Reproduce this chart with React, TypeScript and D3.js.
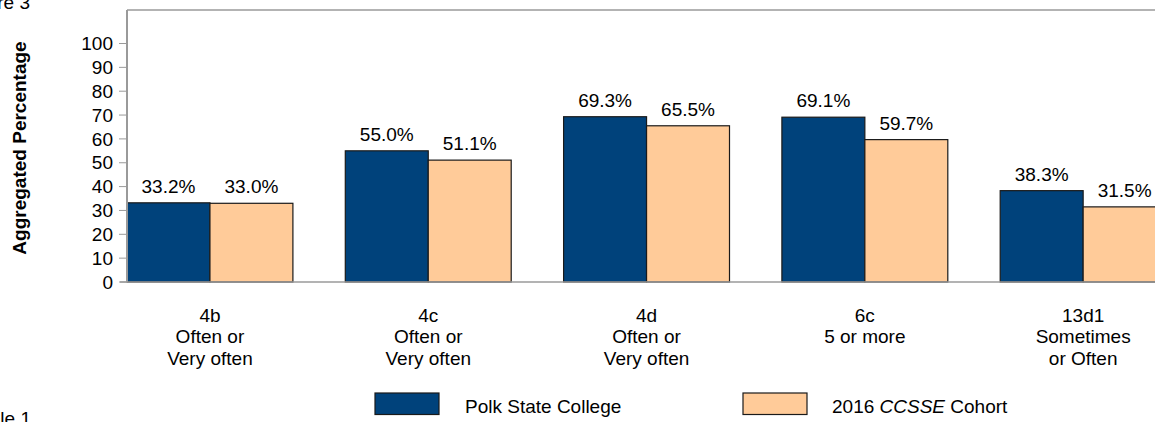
import React from 'react';
import * as d3 from 'd3';

// Item codes and their response-category captions (one entry per line)
const categories = ['4b', '4c', '4d', '6c', '13d1'];
const categoryCaptions = [
  ['4b', 'Often or', 'Very often'],
  ['4c', 'Often or', 'Very often'],
  ['4d', 'Often or', 'Very often'],
  ['6c', '5 or more'],
  ['13d1', 'Sometimes', 'or Often'],
];

const seriesKeys = ['college', 'cohort'];
const collegeValues = [33.2, 55.0, 69.3, 69.1, 38.3];
const cohortValues = [33.0, 51.1, 65.5, 59.7, 31.5];
const yTickValues = [0, 10, 20, 30, 40, 50, 60, 70, 80, 90, 100];

const WIDTH = 1155;
const HEIGHT = 422;
const FONT = "'Liberation Sans', Arial, Helvetica, sans-serif";
const FS = 19;
const COLORS: Record<string, string> = { college: '#00427B', cohort: '#FFCB99' };

export default function App() {
  const axisX = 127;
  const frameTop = 10;

  const y = d3.scaleLinear().domain([0, 100]).range([282, 43.5]);

  const x0 = d3
    .scaleBand<string>()
    .domain(categories)
    .range([100.8, 1192.3])
    .paddingInner(0.24)
    .paddingOuter(0.12);

  const x1 = d3.scaleBand<string>().domain(seriesKeys).range([0, x0.bandwidth()]).padding(0);

  const rows = categories.map((c, i) => ({
    category: c,
    values: [
      { key: 'college', value: collegeValues[i] },
      { key: 'cohort', value: cohortValues[i] },
    ],
  }));

  const fmt = (v: number) => d3.format('.1f')(v) + '%';

  return (
    <svg
      width={WIDTH}
      height={HEIGHT}
      style={{ position: 'absolute', left: 0, top: 0, background: '#fff' }}
      fontFamily={FONT}
    >
      {/* heading fragments clipped by the page edges */}
      <text x={30} y={9} fontSize={FS} textAnchor="end" fill="#000">Figure 3</text>
      <text x={31} y={425} fontSize={FS} textAnchor="end" fill="#000">Table 1</text>

      {/* y-axis title */}
      <text
        transform={`translate(26, ${148}) rotate(-90)`}
        textAnchor="middle"
        fontSize={FS}
        fontWeight="bold"
        fill="#000"
      >
        Aggregated Percentage
      </text>

      {/* frame: top rule */}
      <line x1={axisX} x2={WIDTH} y1={frameTop} y2={frameTop} stroke="#9a9a9a" strokeWidth={1.5} />

      {/* bars */}
      {rows.map((r) => (
        <g key={r.category} transform={`translate(${x0(r.category)},0)`}>
          {r.values.map((d) => (
            <rect
              key={d.key}
              x={x1(d.key)}
              y={y(d.value)}
              width={x1.bandwidth()}
              height={y(0) - y(d.value)}
              fill={COLORS[d.key]}
              stroke="#1a1a1a"
              strokeWidth={1.2}
            />
          ))}
          {r.values.map((d) => (
            <text
              key={d.key + '-lbl'}
              x={(x1(d.key) ?? 0) + x1.bandwidth() / 2}
              y={y(d.value) - 10}
              textAnchor="middle"
              fontSize={FS}
              fill="#000"
            >
              {fmt(d.value)}
            </text>
          ))}
        </g>
      ))}

      {/* y axis */}
      <line x1={axisX} x2={axisX} y1={frameTop} y2={y(0)} stroke="#9a9a9a" strokeWidth={2} />
      {yTickValues.map((t) => (
        <g key={t}>
          <line x1={axisX - 8} x2={axisX - 1} y1={y(t)} y2={y(t)} stroke="#9a9a9a" strokeWidth={1} />
          <text x={113} y={y(t)} dy="0.35em" textAnchor="end" fontSize={FS} fill="#000">
            {t}
          </text>
        </g>
      ))}

      {/* baseline */}
      <line x1={120} x2={WIDTH} y1={y(0)} y2={y(0)} stroke="#9a9a9a" strokeWidth={1.5} />

      {/* category captions */}
      {categories.map((c, i) => (
        <text
          key={c}
          x={(x0(c) ?? 0) + x0.bandwidth() / 2}
          textAnchor="middle"
          fontSize={FS}
          fill="#000"
        >
          {categoryCaptions[i].map((line, j) => (
            <tspan key={j} x={(x0(c) ?? 0) + x0.bandwidth() / 2} y={321.5 + j * 21.5}>
              {line}
            </tspan>
          ))}
        </text>
      ))}

      {/* legend */}
      <g>
        <rect x={375} y={393} width={64} height={21.5} fill={COLORS.college} stroke="#1a1a1a" strokeWidth={1.2} />
        <text x={465} y={413} fontSize={FS} fill="#000">Polk State College</text>
        <rect x={743} y={393} width={64} height={21.5} fill={COLORS.cohort} stroke="#1a1a1a" strokeWidth={1.2} />
        <text x={832} y={413} fontSize={FS} fill="#000">
          2016 <tspan fontStyle="italic">CCSSE</tspan> Cohort
        </text>
      </g>
    </svg>
  );
}
